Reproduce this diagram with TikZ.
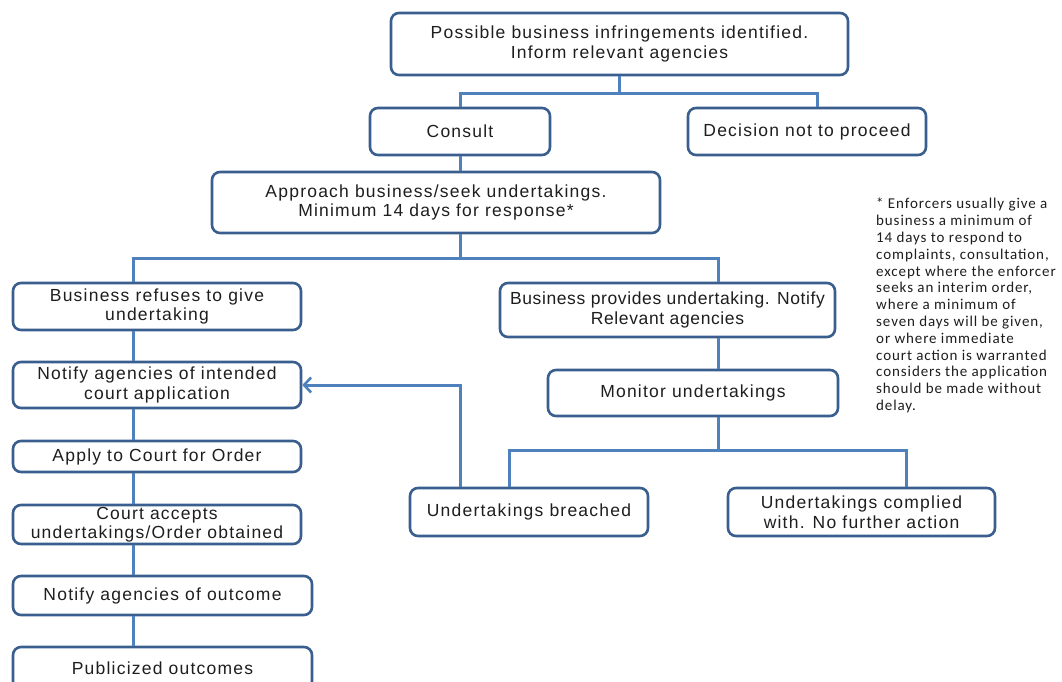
\documentclass[tikz,border=0pt]{standalone}
\usepackage{fontspec}
\setmainfont{Liberation Sans}
\newfontfamily\boxfont[LetterSpace=7]{Liberation Sans}
\newfontfamily\tightboxfont[LetterSpace=3.5]{Liberation Sans}
\newfontfamily\notefont[LetterSpace=6]{Carlito}
\usetikzlibrary{arrows.meta}
\definecolor{boxline}{HTML}{3A5F8E}
\definecolor{connline}{HTML}{4F81BD}
\definecolor{ink}{HTML}{1E1E1E}
\tikzset{
  stepbox/.style={draw=boxline, line width=2.6pt, rounded corners=8pt, fill=white,
    align=center, inner sep=0pt, text=ink,
    font=\boxfont\fontsize{17.5}{19.5}\selectfont},
  conn/.style={draw=connline, line width=3pt},
  barb/.style={-{Straight Barb[length=7pt,width=15pt,line width=2.6pt]}}
}
\begin{document}
\begin{tikzpicture}[x=1pt,y=-1pt]
\clip (0,0) rectangle (1062,682);
\fill[white] (0,0) rectangle (1062,682);

% columns shared by the vertical connectors
\coordinate (colL) at (133,0);
\coordinate (colM) at (460,0);
\coordinate (colR) at (718,0);

% boxes
\node[stepbox, minimum width=457pt, minimum height=62pt] (top) at (619.5,44)
  {Possible business infringements identified.\\Inform relevant agencies};
\node[stepbox, minimum width=180pt, minimum height=47pt] (consult) at (460,131.5) {Consult};
\node[stepbox, minimum width=238pt, minimum height=47pt] (decision) at (807,131.5) {Decision not to proceed};
\node[stepbox, minimum width=448pt, minimum height=61pt] (approach) at (436,202.5)
  {Approach business/seek undertakings.\\Minimum 14 days for response*};
\node[stepbox, minimum width=288pt, minimum height=47pt] (refuses) at (157,306.5)
  {Business refuses to give\\undertaking};
\node[stepbox, minimum width=288pt, minimum height=46pt] (notify) at (157,385)
  {Notify agencies of intended\\court application};
\node[stepbox, minimum width=288pt, minimum height=31pt] (apply) at (157,456.5)
  {Apply to Court for Order};
\node[stepbox, minimum width=288pt, minimum height=39pt] (court) at (157,524.5)
  {Court accepts\\undertakings/Order obtained};
\node[stepbox, minimum width=299pt, minimum height=39pt] (outcome) at (162.5,595.5)
  {Notify agencies of outcome};
\node[stepbox, minimum width=299pt, minimum height=42pt] (publicized) at (162.5,668)
  {Publicized outcomes};
\node[stepbox, minimum width=335pt, minimum height=54pt,
      font=\tightboxfont\fontsize{17.5}{19.5}\selectfont] (provides) at (667.5,310)
  {Business provides undertaking. Notify\\Relevant agencies};
\node[stepbox, minimum width=290pt, minimum height=46pt] (monitor) at (693,393)
  {Monitor undertakings};
\node[stepbox, minimum width=238pt, minimum height=48pt] (breached) at (529,512)
  {Undertakings breached};
\node[stepbox, minimum width=267pt, minimum height=48pt] (complied) at (861.5,512)
  {Undertakings complied\\with. No further action};

% footnote
\node[anchor=north west, align=left, inner sep=0pt, text=ink,
      font=\notefont\fontsize{15}{16.8}\selectfont] (note) at (876,198)
  {* Enforcers usually give a\\
   business a minimum of\\
   14 days to respond to\\
   complaints, consultation,\\
   except where the enforcer\\
   seeks an interim order,\\
   where a minimum of\\
   seven days will be given,\\
   or where immediate\\
   court action is warranted\\
   considers the application\\
   should be made without\\
   delay.};

% connectors
\draw[conn] (top.south) -- ++(0,17) coordinate (j1);
\draw[conn] (consult.north) |- (j1) -| ([xshift=10pt]decision.north);
\draw[conn] (consult.south) -- (consult.south |- approach.north);
\draw[conn] (approach.south -| colM) -- ++(0,24) coordinate (j2);
\draw[conn] (refuses.north -| colL) |- (j2) -| (provides.north -| colR);
\draw[conn] (refuses.south -| colL) -- (notify.north -| colL);
\draw[conn] (notify.south -| colL) -- (apply.north -| colL);
\draw[conn] (apply.south -| colL) -- (court.north -| colL);
\draw[conn] (court.south -| colL) -- (outcome.north -| colL);
\draw[conn] (outcome.south -| colL) -- (publicized.north -| colL);
\draw[conn] (provides.south -| colR) -- (monitor.north -| colR);
\draw[conn] (monitor.south -| colR) -- ++(0,33) coordinate (j3);
\draw[conn] ([xshift=-20pt]breached.north) |- (j3) -| ([xshift=44.5pt]complied.north);
\draw[conn, barb] (breached.north -| colM) |- (notify.east);
\end{tikzpicture}
\end{document}
